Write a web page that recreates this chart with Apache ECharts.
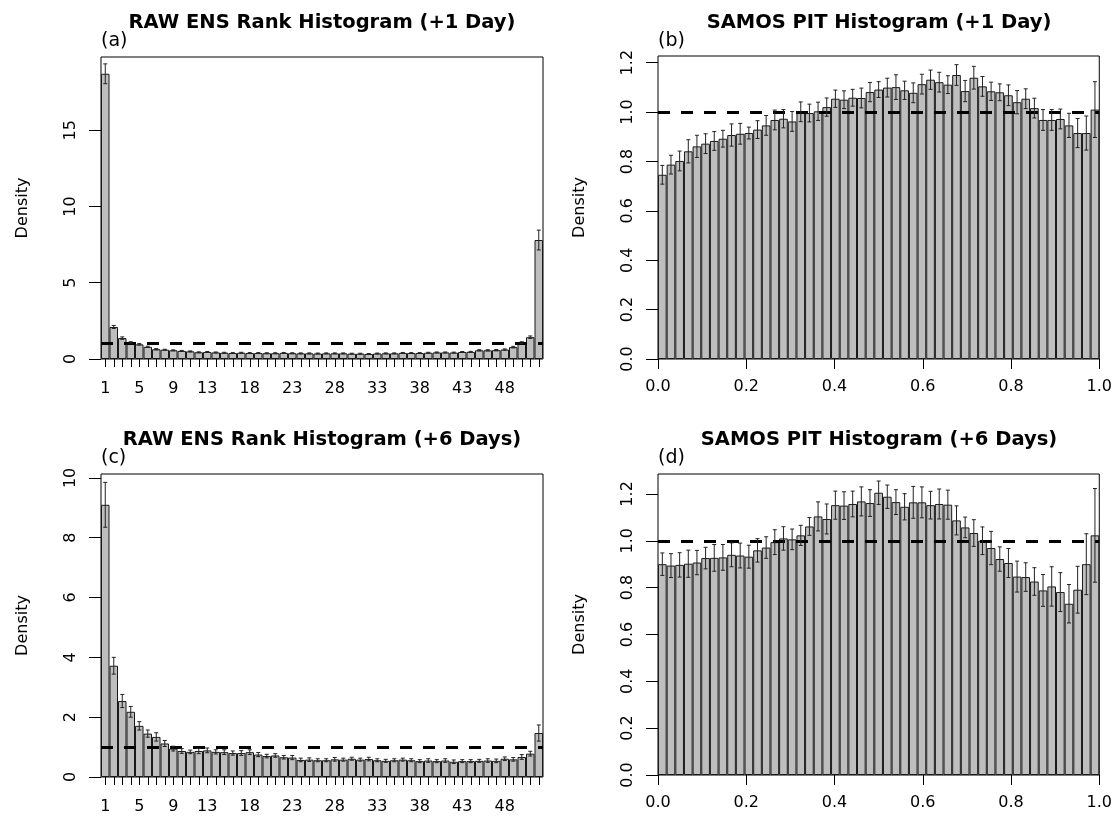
<!DOCTYPE html>
<html>
<head>
<meta charset="utf-8">
<script src="https://cdn.jsdelivr.net/npm/echarts@6.0.0/dist/echarts.min.js"></script>
<style>
  html, body { margin: 0; padding: 0; background: #fff; }
  #chart { width: 1115px; height: 821px; }
</style>
</head>
<body>
<div id="chart"></div>
<script>
// rank categories (52 ranks for the 51 member ensemble)
const ranks = ['1','2','3','4','5','6','7','8','9','10','11','12','13','14','15','16','17','18','19','20',
  '21','22','23','24','25','26','27','28','29','30','31','32','33','34','35','36','37','38','39','40',
  '41','42','43','44','45','46','47','48','49','50','51','52'];
const rankLabels = ['1','5','9','13','18','23','28','33','38','43','48'];

// RAW ENS rank histogram, +1 day
const densA = [18.7, 2.10, 1.37, 1.08, 0.96, 0.80, 0.64, 0.61, 0.57, 0.53, 0.50, 0.44, 0.46, 0.43, 0.41, 0.39,
  0.41, 0.39, 0.39, 0.38, 0.38, 0.40, 0.38, 0.37, 0.37, 0.36, 0.37, 0.37, 0.37, 0.35, 0.35, 0.33, 0.36,
  0.37, 0.37, 0.40, 0.39, 0.39, 0.41, 0.43, 0.43, 0.42, 0.46, 0.47, 0.57, 0.57, 0.58, 0.62, 0.78, 1.07,
  1.43, 7.8];
const errA = [0.65, 0.10, 0.08, 0.05, 0.05, 0.04, 0.04, 0.03, 0.03, 0.03, 0.03, 0.03, 0.03, 0.03, 0.03, 0.03,
  0.03, 0.03, 0.03, 0.03, 0.03, 0.03, 0.03, 0.03, 0.03, 0.03, 0.03, 0.03, 0.03, 0.03, 0.03, 0.03, 0.03,
  0.03, 0.03, 0.03, 0.03, 0.03, 0.03, 0.03, 0.03, 0.03, 0.03, 0.03, 0.04, 0.04, 0.04, 0.04, 0.05, 0.06,
  0.08, 0.65];

// RAW ENS rank histogram, +6 days
const densC = [9.1, 3.72, 2.54, 2.18, 1.71, 1.45, 1.34, 1.12, 0.95, 0.87, 0.84, 0.87, 0.89, 0.84, 0.83, 0.80,
  0.80, 0.83, 0.75, 0.70, 0.72, 0.66, 0.65, 0.57, 0.58, 0.56, 0.56, 0.59, 0.58, 0.61, 0.58, 0.60, 0.56,
  0.54, 0.56, 0.58, 0.56, 0.53, 0.55, 0.53, 0.55, 0.51, 0.53, 0.53, 0.54, 0.55, 0.54, 0.61, 0.59, 0.67,
  0.78, 1.47];
const errC = [0.75, 0.28, 0.22, 0.18, 0.14, 0.12, 0.14, 0.10, 0.08, 0.08, 0.06, 0.09, 0.08, 0.07, 0.08, 0.07,
  0.08, 0.08, 0.07, 0.06, 0.06, 0.06, 0.07, 0.06, 0.06, 0.05, 0.05, 0.06, 0.05, 0.05, 0.05, 0.06, 0.05,
  0.05, 0.05, 0.05, 0.05, 0.05, 0.06, 0.05, 0.06, 0.06, 0.05, 0.05, 0.05, 0.06, 0.06, 0.06, 0.06, 0.08,
  0.08, 0.27];

// SAMOS PIT histogram, +1 day (51 bins on [0, 1])
const densB = [0.746, 0.787, 0.802, 0.841, 0.861, 0.872, 0.883, 0.892, 0.907, 0.912, 0.915, 0.929, 0.946,
  0.968, 0.973, 0.962, 1.001, 0.996, 1.003, 1.020, 1.054, 1.050, 1.058, 1.057, 1.081, 1.091, 1.099, 1.101,
  1.088, 1.078, 1.113, 1.131, 1.121, 1.111, 1.150, 1.085, 1.139, 1.104, 1.084, 1.080, 1.068, 1.040, 1.054,
  1.016, 0.968, 0.968, 0.972, 0.946, 0.915, 0.915, 1.010];
const errB = [0.038, 0.038, 0.040, 0.047, 0.045, 0.040, 0.038, 0.034, 0.045, 0.042, 0.024, 0.036, 0.040,
  0.040, 0.037, 0.040, 0.040, 0.036, 0.037, 0.037, 0.035, 0.036, 0.034, 0.040, 0.039, 0.032, 0.038, 0.050,
  0.037, 0.040, 0.040, 0.039, 0.040, 0.036, 0.042, 0.043, 0.046, 0.040, 0.037, 0.034, 0.042, 0.047, 0.040,
  0.040, 0.042, 0.042, 0.040, 0.049, 0.059, 0.069, 0.113];

// SAMOS PIT histogram, +6 days
const densD = [0.900, 0.894, 0.897, 0.902, 0.907, 0.926, 0.927, 0.929, 0.940, 0.937, 0.932, 0.959, 0.971,
  0.994, 1.010, 1.006, 1.023, 1.061, 1.104, 1.093, 1.152, 1.150, 1.157, 1.168, 1.161, 1.205, 1.188, 1.165,
  1.145, 1.164, 1.164, 1.152, 1.157, 1.154, 1.087, 1.057, 1.033, 1.000, 0.969, 0.922, 0.905, 0.847, 0.845,
  0.826, 0.788, 0.805, 0.781, 0.731, 0.791, 0.900, 1.023];
const errD = [0.048, 0.051, 0.052, 0.058, 0.052, 0.046, 0.057, 0.055, 0.051, 0.053, 0.049, 0.050, 0.046,
  0.053, 0.050, 0.044, 0.043, 0.038, 0.062, 0.064, 0.060, 0.059, 0.055, 0.062, 0.057, 0.050, 0.050, 0.053,
  0.056, 0.068, 0.066, 0.059, 0.064, 0.062, 0.062, 0.044, 0.057, 0.059, 0.071, 0.052, 0.062, 0.066, 0.061,
  0.059, 0.068, 0.084, 0.083, 0.082, 0.100, 0.130, 0.200];

const pitTicks = [0, 0.2, 0.4, 0.6, 0.8, 1.0];
const yTicksA = [0, 5, 10, 15];
const yTicksB = [0, 0.2, 0.4, 0.6, 0.8, 1.0, 1.2];
const yTicksC = [0, 2, 4, 6, 8, 10];
const yTicksD = [0, 0.2, 0.4, 0.6, 0.8, 1.0, 1.2];

const FONT = '"DejaVu Sans", "Liberation Sans", sans-serif';
const chart = echarts.init(document.getElementById('chart'));

const grids = [
  { left: 101, top: 57, width: 442, height: 302 },
  { left: 658, top: 56, width: 442, height: 303 },
  { left: 101, top: 474, width: 442, height: 303 },
  { left: 658, top: 474, width: 442, height: 301 },
].map(g => ({ ...g, show: true, borderColor: '#000', borderWidth: 1, backgroundColor: 'transparent' }));

function rankXAxis(gridIndex) {
  return {
    type: 'category', gridIndex, data: ranks, position: 'bottom', offset: 3,
    axisLine: { show: false },
    axisTick: { show: true, interval: 0, alignWithLabel: true, length: 8, lineStyle: { color: '#000' } },
    axisLabel: {
      interval: (i, v) => rankLabels.includes(v),
      color: '#000', fontFamily: FONT, fontSize: 16, margin: 19,
    },
  };
}
function hiddenBinAxis(gridIndex) {
  return { type: 'category', gridIndex, position: 'top', data: densB.map((_, i) => i), show: false };
}
function pitXAxis(gridIndex) {
  return {
    type: 'value', gridIndex, position: 'bottom', min: 0, max: 1, interval: 0.2,
    axisLine: { show: false }, splitLine: { show: false },
    axisTick: { show: true, length: 10, lineStyle: { color: '#000' }, customValues: pitTicks },
    axisLabel: {
      color: '#000', fontFamily: FONT, fontSize: 16, margin: 20,
      customValues: pitTicks, formatter: v => v.toFixed(1),
    },
  };
}
function densityAxis(gridIndex, max, ticks, digits) {
  return {
    type: 'value', gridIndex, min: 0, max,
    name: 'Density', nameLocation: 'middle', nameGap: 70,
    nameTextStyle: { color: '#000', fontFamily: FONT, fontSize: 16 },
    axisLine: { show: false }, splitLine: { show: false },
    axisTick: { show: true, length: 12, lineStyle: { color: '#000' }, customValues: ticks },
    axisLabel: {
      rotate: 90, color: '#000', fontFamily: FONT, fontSize: 16, margin: 22,
      customValues: ticks, formatter: v => v.toFixed(digits),
    },
  };
}

function barSeries(xAxisIndex, yAxisIndex, values) {
  return {
    type: 'bar', xAxisIndex, yAxisIndex, data: values,
    barCategoryGap: '0%',
    itemStyle: { color: '#bebebe', borderColor: '#1a1a1a', borderWidth: 1 },
    silent: true,
    markLine: {
      silent: true, symbol: 'none', z: 10,
      label: { show: false },
      lineStyle: { color: '#000', width: 3, type: [12, 11] },
      data: [{ yAxis: 1 }],
    },
  };
}
function errorSeries(xAxisIndex, yAxisIndex, values, errs) {
  return {
    type: 'custom', xAxisIndex, yAxisIndex, z: 12, silent: true,
    encode: { x: 0, y: [1, 2] },
    data: values.map((v, i) => [i, v - errs[i], v + errs[i]]),
    renderItem: (params, api) => {
      const lo = api.coord([api.value(0), api.value(1)]);
      const hi = api.coord([api.value(0), api.value(2)]);
      const st = { stroke: '#222', lineWidth: 1 };
      return {
        type: 'group',
        children: [
          { type: 'line', shape: { x1: lo[0], y1: lo[1], x2: hi[0], y2: hi[1] }, style: st },
          { type: 'line', shape: { x1: lo[0] - 2, y1: lo[1], x2: lo[0] + 2, y2: lo[1] }, style: st },
          { type: 'line', shape: { x1: hi[0] - 2, y1: hi[1], x2: hi[0] + 2, y2: hi[1] }, style: st },
        ],
      };
    },
  };
}

function titleText(x, y, text) {
  return {
    type: 'text', x, y, z: 20,
    style: { text, fill: '#000', font: 'bold 19.5px ' + FONT, align: 'center', verticalAlign: 'middle' },
  };
}
function panelTag(x, y, text) {
  return {
    type: 'text', x, y, z: 20,
    style: { text, fill: '#000', font: '19px ' + FONT, align: 'left', verticalAlign: 'middle' },
  };
}

const option = {
  backgroundColor: '#fff',
  animation: false,
  grid: grids,
  xAxis: [
    rankXAxis(0),
    hiddenBinAxis(1),
    pitXAxis(1),
    rankXAxis(2),
    hiddenBinAxis(3),
    pitXAxis(3),
  ],
  yAxis: [
    densityAxis(0, 19.8, yTicksA, 0),
    densityAxis(1, 1.227, yTicksB, 1),
    densityAxis(2, 10.13, yTicksC, 0),
    densityAxis(3, 1.285, yTicksD, 1),
  ],
  series: [
    barSeries(0, 0, densA), errorSeries(0, 0, densA, errA),
    barSeries(1, 1, densB), errorSeries(1, 1, densB, errB),
    barSeries(3, 2, densC), errorSeries(3, 2, densC, errC),
    barSeries(4, 3, densD), errorSeries(4, 3, densD, errD),
  ],
  graphic: [
    titleText(322, 23, 'RAW ENS Rank Histogram (+1 Day)'),
    titleText(879, 23, 'SAMOS PIT Histogram (+1 Day)'),
    titleText(322, 440, 'RAW ENS Rank Histogram (+6 Days)'),
    titleText(879, 440, 'SAMOS PIT Histogram (+6 Days)'),
    panelTag(101, 41, '(a)'),
    panelTag(658, 41, '(b)'),
    panelTag(101, 458, '(c)'),
    panelTag(658, 458, '(d)'),
  ],
};
chart.setOption(option);
</script>
</body>
</html>
